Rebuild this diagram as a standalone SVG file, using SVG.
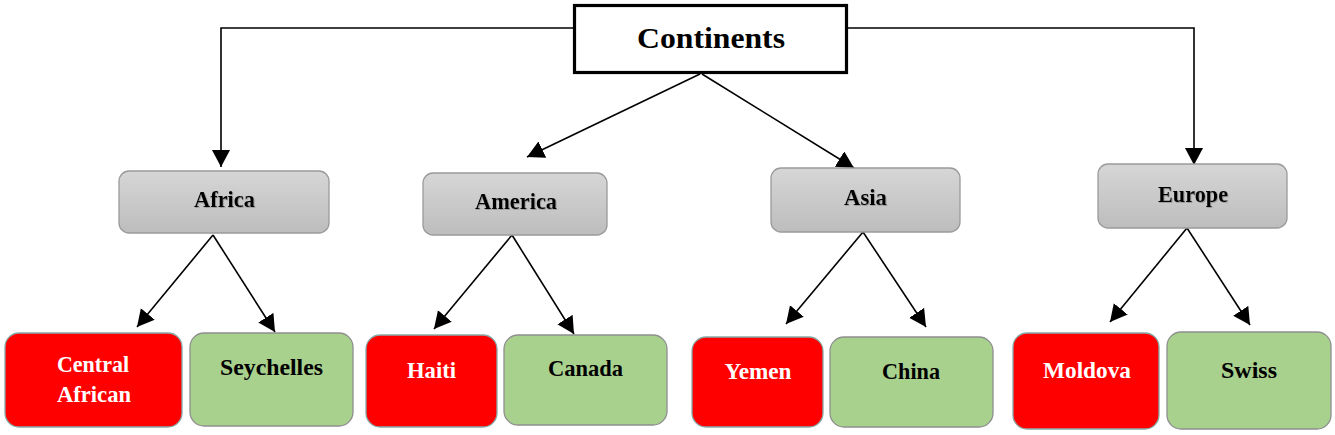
<svg xmlns="http://www.w3.org/2000/svg" width="1335" height="435" viewBox="0 0 1335 435">
  <style>
    .lbl { font-family: "Liberation Serif", "Times New Roman", serif; font-weight: bold; font-size: 22.5px; text-anchor: middle; }
    .title { font-family: "Liberation Serif", "Times New Roman", serif; font-weight: bold; font-size: 30px; text-anchor: middle; fill: #000; }
    .gray { fill: url(#grayGrad); stroke: #9a9a9a; stroke-width: 1.3; }
    .red { fill: #ff0000; stroke: #86aaa8; stroke-width: 1.3; }
    .green { fill: #a9d18e; stroke: #8f8f8f; stroke-width: 1.3; }
    .dark { fill: #000; }
    .light { fill: #fff; }
    .conn { fill: none; stroke: #000; stroke-width: 1.6; marker-end: url(#arr); }
  </style>
  <defs>
    <linearGradient id="grayGrad" x1="0" y1="0" x2="0" y2="1">
      <stop offset="0" stop-color="#d6d6d6"/>
      <stop offset="1" stop-color="#bdbdbd"/>
    </linearGradient>
    <filter id="shadow" x="-10%" y="-20%" width="120%" height="140%">
      <feDropShadow dx="0.8" dy="0.8" stdDeviation="0.6" flood-color="#707070" flood-opacity="0.6"/>
    </filter>
    <marker id="arr" markerUnits="userSpaceOnUse" markerWidth="18" markerHeight="19" refX="17" refY="9" orient="auto">
      <path d="M0,0 L17,9 L0,18 Z" fill="#000"/>
    </marker>
  </defs>
  <rect width="1335" height="435" fill="#fff"/>

  <g id="connectors">
    <path class="conn" d="M573,28 L221,28 L221,167"/>
    <path class="conn" d="M848,28 L1194,28 L1194,165"/>
    <path class="conn" d="M700,74 L527,157"/>
    <path class="conn" d="M702,74 L854,168"/>
    <path class="conn" d="M213,235 L137,327"/>
    <path class="conn" d="M213,235 L275,332"/>
    <path class="conn" d="M512,235 L434,329"/>
    <path class="conn" d="M512,235 L574,334"/>
    <path class="conn" d="M863,232 L786,324"/>
    <path class="conn" d="M863,232 L926,327"/>
    <path class="conn" d="M1187,228 L1110,322"/>
    <path class="conn" d="M1187,228 L1250,325"/>
  </g>

  <g id="continents">
    <rect x="574.5" y="5.5" width="272" height="67" fill="#fff" stroke="#000" stroke-width="3.2"/>
    <text class="title" x="711" y="48" textLength="148" lengthAdjust="spacingAndGlyphs">Continents</text>
  </g>

  <g id="africa">
    <rect class="gray" x="119" y="171" width="210" height="62" rx="10"/>
    <text class="lbl dark" x="224.5" y="207" textLength="61" lengthAdjust="spacingAndGlyphs" filter="url(#shadow)">Africa</text>
  </g>
  <g id="america">
    <rect class="gray" x="423" y="173" width="184" height="62" rx="10"/>
    <text class="lbl dark" x="516" y="209" textLength="82" lengthAdjust="spacingAndGlyphs" filter="url(#shadow)">America</text>
  </g>
  <g id="asia">
    <rect class="gray" x="771" y="168" width="189" height="64" rx="10"/>
    <text class="lbl dark" x="865.5" y="205" textLength="43" lengthAdjust="spacingAndGlyphs" filter="url(#shadow)">Asia</text>
  </g>
  <g id="europe">
    <rect class="gray" x="1098" y="164" width="189" height="64" rx="10"/>
    <text class="lbl dark" x="1193" y="202" textLength="70" lengthAdjust="spacingAndGlyphs" filter="url(#shadow)">Europe</text>
  </g>

  <g id="central-african">
    <rect class="red" x="5" y="333" width="177" height="94" rx="14"/>
    <text class="lbl light" x="93" y="372" textLength="72" lengthAdjust="spacingAndGlyphs">Central</text>
    <text class="lbl light" x="94" y="402" textLength="74" lengthAdjust="spacingAndGlyphs">African</text>
  </g>
  <g id="seychelles">
    <rect class="green" x="190" y="333" width="163" height="93" rx="14"/>
    <text class="lbl dark" x="271.5" y="375" textLength="103" lengthAdjust="spacingAndGlyphs">Seychelles</text>
  </g>
  <g id="haiti">
    <rect class="red" x="366" y="335" width="131" height="92" rx="14"/>
    <text class="lbl light" x="431.5" y="378" textLength="49" lengthAdjust="spacingAndGlyphs">Haiti</text>
  </g>
  <g id="canada">
    <rect class="green" x="504" y="335" width="163" height="90" rx="14"/>
    <text class="lbl dark" x="585.5" y="376" textLength="75" lengthAdjust="spacingAndGlyphs">Canada</text>
  </g>
  <g id="yemen">
    <rect class="red" x="692" y="337" width="131" height="90" rx="14"/>
    <text class="lbl light" x="758" y="379" textLength="67" lengthAdjust="spacingAndGlyphs">Yemen</text>
  </g>
  <g id="china">
    <rect class="green" x="830" y="337" width="163" height="90" rx="14"/>
    <text class="lbl dark" x="911" y="379" textLength="58" lengthAdjust="spacingAndGlyphs">China</text>
  </g>
  <g id="moldova">
    <rect class="red" x="1013" y="333" width="146" height="96" rx="14"/>
    <text class="lbl light" x="1087" y="378" textLength="88" lengthAdjust="spacingAndGlyphs">Moldova</text>
  </g>
  <g id="swiss">
    <rect class="green" x="1167" y="332" width="164" height="97" rx="14"/>
    <text class="lbl dark" x="1249" y="378" textLength="56" lengthAdjust="spacingAndGlyphs">Swiss</text>
  </g>
</svg>
